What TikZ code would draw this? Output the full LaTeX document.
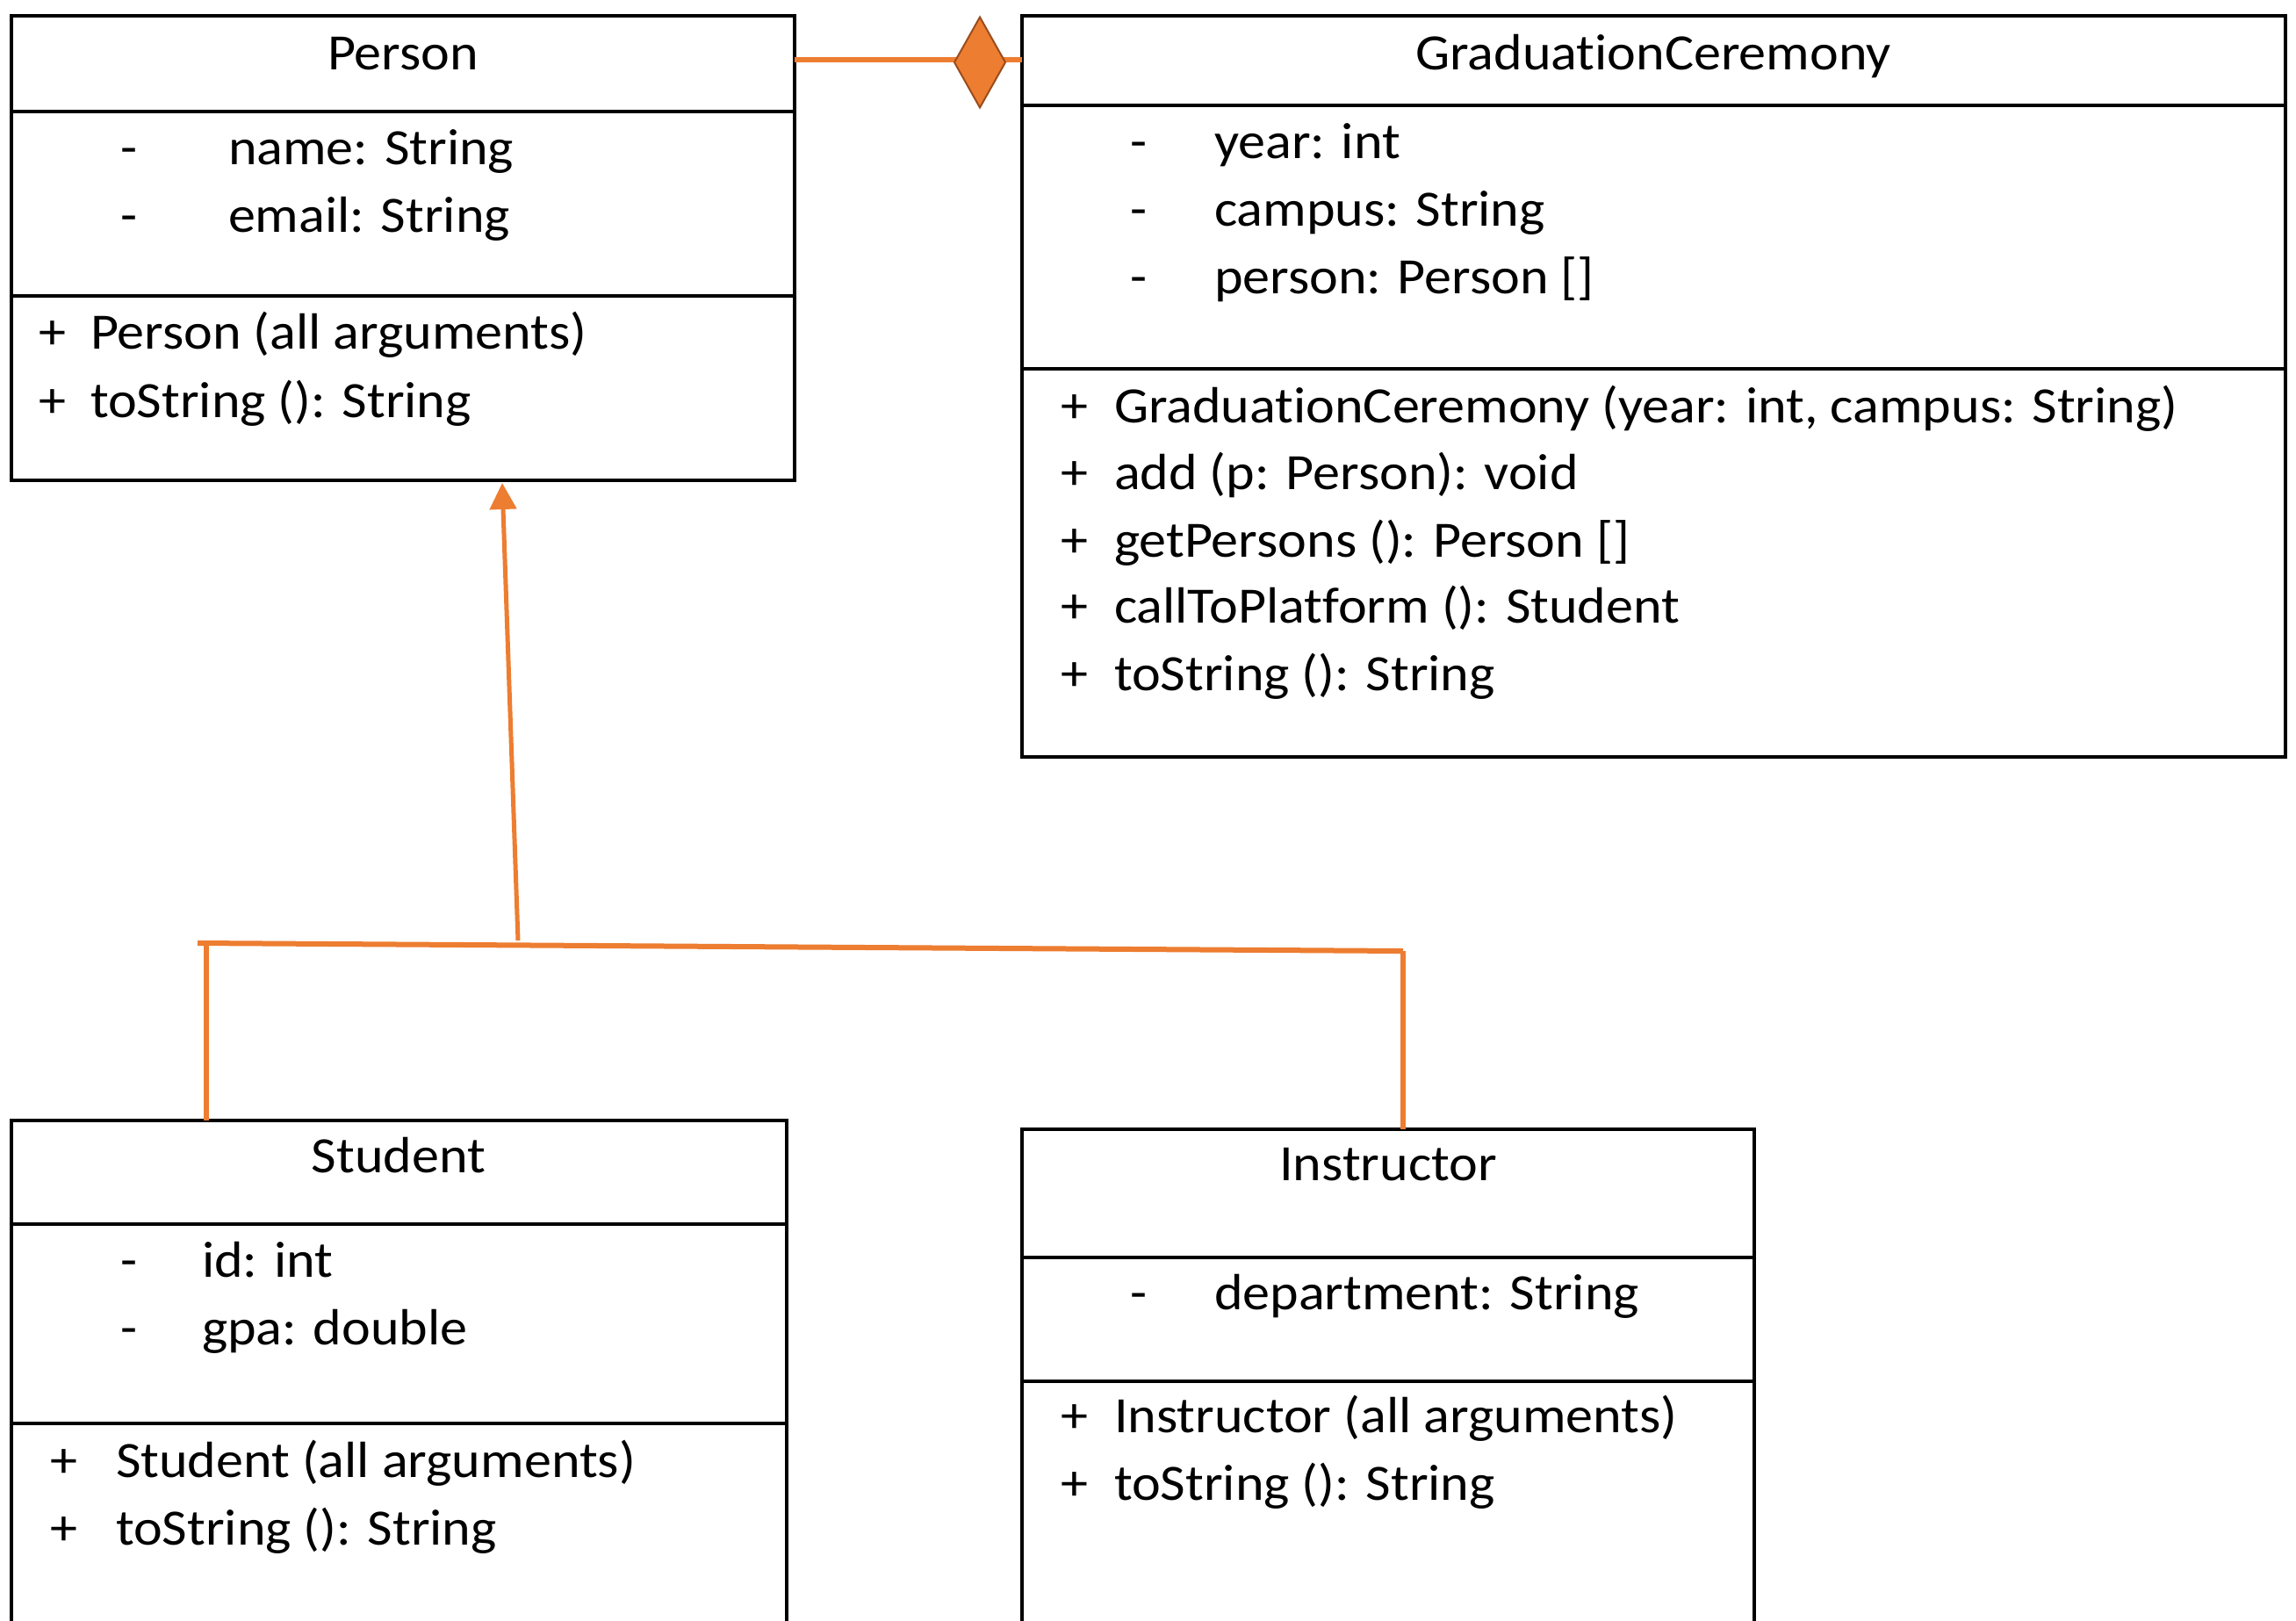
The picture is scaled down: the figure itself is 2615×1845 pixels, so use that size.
\documentclass[tikz,border=0pt]{standalone}
\usepackage{fontspec}
\setmainfont[FakeStretch=1.07,Ligatures=CommonOff]{Carlito}
\usetikzlibrary{arrows.meta,shapes.geometric}
\definecolor{umlorange}{HTML}{ED7D31}
\definecolor{umlbrown}{HTML}{9A4C1C}

\begin{document}
\begin{tikzpicture}[x=1pt,y=-1pt,
  classbox/.style={draw=black,line width=3.5pt,rectangle,inner sep=0pt,outer sep=0pt,anchor=north west},
  divider/.style={draw=black,line width=3.5pt},
  txt/.style={inner sep=0pt,outer sep=0pt,anchor=base west,text=black,font=\fontsize{58}{70}\selectfont},
  sign/.style={txt,anchor=base},
  ctitle/.style={txt,anchor=base},
  link/.style={draw=umlorange,line width=6pt},
  genlink/.style={draw=umlorange,line width=5pt,-{Triangle[length=30pt,width=30pt]}},
  compdiamond/.style={diamond,fill=umlorange,draw=umlbrown,line width=2pt,inner sep=0pt,outer sep=0pt,minimum width=58pt,minimum height=103pt}
]
\useasboundingbox (0,0) rectangle (2615,1845);
\clip (0,0) rectangle (2615,1845);
\fill[white] (0,0) rectangle (2615,1845);

% ---------- Person ----------
\node[classbox,minimum width=892pt,minimum height=529pt] (person) at (13,18) {};
\draw[divider] (person.west |- 0,127) -- (person.east |- 0,127);
\draw[divider] (person.west |- 0,337) -- (person.east |- 0,337);
\node[ctitle] (pTitle) at (459,79) {Person};
\node[sign] (pA1s) at (147,187) {-};
\node[txt]  (pA1)  at (260,187) {name: String};
\node[sign] (pA2s) at (147,264) {-};
\node[txt]  (pA2)  at (260,264) {email: String};
\node[sign] (pM1s) at (60,397) {+};
\node[txt]  (pM1)  at (103,397) {Person (all arguments)};
\node[sign] (pM2s) at (60,475) {+};
\node[txt]  (pM2)  at (103,475) {toString (): String};

% ---------- GraduationCeremony ----------
\node[classbox,minimum width=1439pt,minimum height=844pt] (gc) at (1164,18) {};
\draw[divider] (gc.west |- 0,120) -- (gc.east |- 0,120);
\draw[divider] (gc.west |- 0,420) -- (gc.east |- 0,420);
\node[ctitle] (gTitle) at (1883,79) {GraduationCeremony};
\node[sign] (gA1s) at (1297,180) {-};
\node[txt]  (gA1)  at (1383,180) {year: int};
\node[sign] (gA2s) at (1297,257) {-};
\node[txt]  (gA2)  at (1383,257) {campus: String};
\node[sign] (gA3s) at (1297,334) {-};
\node[txt]  (gA3)  at (1383,334) {person: Person []};
\node[sign] (gM1s) at (1224,481) {+};
\node[txt]  (gM1)  at (1269,481) {GraduationCeremony (year: int, campus: String)};
\node[sign] (gM2s) at (1224,557) {+};
\node[txt]  (gM2)  at (1269,557) {add (p: Person): void};
\node[sign] (gM3s) at (1224,634) {+};
\node[txt]  (gM3)  at (1269,634) {getPersons (): Person []};
\node[sign] (gM4s) at (1224,709) {+};
\node[txt]  (gM4)  at (1269,709) {callToPlatform (): Student};
\node[sign] (gM5s) at (1224,786) {+};
\node[txt]  (gM5)  at (1269,786) {toString (): String};

% ---------- Student ----------
\node[classbox,minimum width=883pt,minimum height=700pt] (student) at (13,1276) {};
\draw[divider] (student.west |- 0,1394) -- (student.east |- 0,1394);
\draw[divider] (student.west |- 0,1621) -- (student.east |- 0,1621);
\node[ctitle] (sTitle) at (454,1335) {Student};
\node[sign] (sA1s) at (147,1454) {-};
\node[txt]  (sA1)  at (230,1454) {id: int};
\node[sign] (sA2s) at (147,1531) {-};
\node[txt]  (sA2)  at (230,1531) {gpa: double};
\node[sign] (sM1s) at (73,1682) {+};
\node[txt]  (sM1)  at (132,1682) {Student (all arguments)};
\node[sign] (sM2s) at (73,1759) {+};
\node[txt]  (sM2)  at (132,1759) {toString (): String};

% ---------- Instructor ----------
\node[classbox,minimum width=834pt,minimum height=700pt] (instr) at (1164,1286) {};
\draw[divider] (instr.west |- 0,1432) -- (instr.east |- 0,1432);
\draw[divider] (instr.west |- 0,1573) -- (instr.east |- 0,1573);
\node[ctitle] (iTitle) at (1581,1344) {Instructor};
\node[sign] (iA1s) at (1297,1491) {-};
\node[txt]  (iA1)  at (1383,1491) {department: String};
\node[sign] (iM1s) at (1224,1631) {+};
\node[txt]  (iM1)  at (1269,1631) {Instructor (all arguments)};
\node[sign] (iM2s) at (1224,1708) {+};
\node[txt]  (iM2)  at (1269,1708) {toString (): String};

% ---------- composition: GraduationCeremony holds Persons ----------
\draw[link] ([yshift=-50pt]person.north east) -- ([yshift=-50pt]gc.north west);
\node[compdiamond] (comp) at (1116,71) {};

% ---------- generalization: Student and Instructor extend Person ----------
\coordinate (barL) at (225,1074);
\coordinate (barR) at (1598,1083);
\coordinate (barS) at (235,1074);
\coordinate (barM) at (590,1071);
\draw[link] (barL) -- (barR);
\draw[link] ([xshift=222pt]student.north west) -- (barS);
\draw[link] (barR) -- ([xshift=434pt]instr.north west);
\draw[genlink] (barM) -- ([xshift=113pt,yshift=-3pt]person.south);
\end{tikzpicture}
\end{document}
